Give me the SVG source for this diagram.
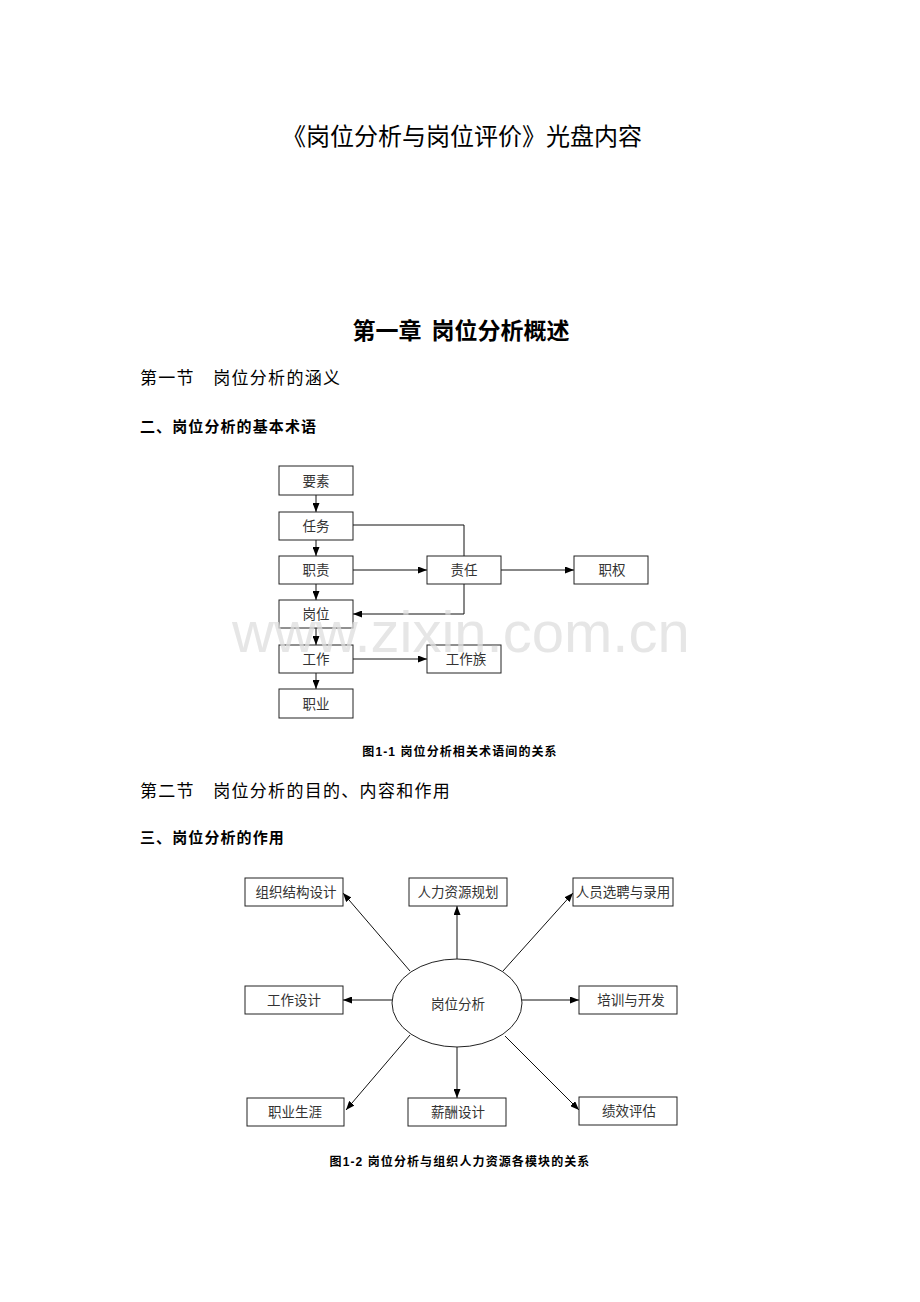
<svg xmlns="http://www.w3.org/2000/svg" width="920" height="1302" viewBox="0 0 920 1302">
<defs>
<marker id="ah" markerUnits="userSpaceOnUse" markerWidth="9" markerHeight="7" refX="9" refY="3.5" orient="auto">
<path d="M0,0 L9,3.5 L0,7 z" fill="#000"/>
</marker>
<style>
.t{font-family:"Liberation Sans","Noto Sans CJK SC",sans-serif;fill:#000}
.h1{font-size:24px}
.h2{font-size:23px;font-weight:bold}
.sec{font-size:17px;letter-spacing:1.3px}
.sub{font-size:15px;font-weight:bold;letter-spacing:1.1px}
.cap{font-size:12px;font-weight:bold;letter-spacing:1.1px}
.bx{fill:#fff;stroke:#222;stroke-width:1}
.lb{font-family:"Liberation Sans","Noto Sans CJK SC",sans-serif;font-size:13.5px;fill:#333;text-anchor:middle}
.ln{fill:none;stroke:#111;stroke-width:1}
.wm{font-family:"Liberation Sans","Noto Sans",sans-serif;font-size:58px;fill:#dedede;fill-opacity:0.75}
</style>
</defs>
<rect x="0" y="0" width="920" height="1302" fill="#fff"/>

<text class="t h1" x="462" y="145" text-anchor="middle">《岗位分析与岗位评价》光盘内容</text>
<text class="t h2" x="461" y="339" text-anchor="middle">第一章<tspan dx="10">岗位分析概述</tspan></text>
<text class="t sec" x="140" y="384">第一节　岗位分析的涵义</text>
<text class="t sub" x="140" y="432">二、岗位分析的基本术语</text>

<g id="connectors1">
<line class="ln" x1="316" y1="495" x2="316" y2="512" marker-end="url(#ah)"/>
<line class="ln" x1="316" y1="540" x2="316" y2="556" marker-end="url(#ah)"/>
<line class="ln" x1="316" y1="584" x2="316" y2="600" marker-end="url(#ah)"/>
<line class="ln" x1="316" y1="628" x2="316" y2="645" marker-end="url(#ah)"/>
<line class="ln" x1="316" y1="673" x2="316" y2="689" marker-end="url(#ah)"/>
<polyline class="ln" points="353,525 464,525 464,556"/>
<line class="ln" x1="353" y1="570" x2="427" y2="570" marker-end="url(#ah)"/>
<line class="ln" x1="501" y1="570" x2="574" y2="570" marker-end="url(#ah)"/>
<polyline class="ln" points="464,584 464,614 353,614" marker-end="url(#ah)"/>
<line class="ln" x1="353" y1="659" x2="427" y2="659" marker-end="url(#ah)"/>
</g>

<g id="n-yaosu"><rect class="bx" x="279" y="466" width="74" height="29"/><text class="lb" x="316" y="486">要素</text></g>
<g id="n-renwu"><rect class="bx" x="279" y="512" width="74" height="28"/><text class="lb" x="316" y="531">任务</text></g>
<g id="n-zhize"><rect class="bx" x="279" y="556" width="74" height="28"/><text class="lb" x="316" y="575">职责</text></g>
<g id="n-gangwei"><rect class="bx" x="279" y="600" width="74" height="28"/><text class="lb" x="316" y="619">岗位</text></g>
<g id="n-gongzuo"><rect class="bx" x="279" y="645" width="74" height="28"/><text class="lb" x="316" y="664">工作</text></g>
<g id="n-zhiye"><rect class="bx" x="279" y="689" width="74" height="29"/><text class="lb" x="316" y="709">职业</text></g>
<g id="n-zeren"><rect class="bx" x="427" y="556" width="74" height="28"/><text class="lb" x="464" y="575">责任</text></g>
<g id="n-zhiquan"><rect class="bx" x="574" y="556" width="74" height="28"/><text class="lb" x="612" y="575">职权</text></g>
<g id="n-gongzuozu"><rect class="bx" x="427" y="645" width="74" height="28"/><text class="lb" x="466" y="664">工作族</text></g>

<text class="t cap" x="460" y="756" text-anchor="middle">图1-1 岗位分析相关术语间的关系</text>
<text class="t sec" x="140" y="797">第二节　岗位分析的目的、内容和作用</text>
<text class="t sub" x="140" y="843">三、岗位分析的作用</text>

<g id="connectors2">
<line class="ln" x1="410" y1="971" x2="343" y2="893" marker-end="url(#ah)"/>
<line class="ln" x1="457" y1="959" x2="457" y2="906" marker-end="url(#ah)"/>
<line class="ln" x1="503" y1="971" x2="573" y2="893" marker-end="url(#ah)"/>
<line class="ln" x1="392" y1="1000" x2="343" y2="1000" marker-end="url(#ah)"/>
<line class="ln" x1="522" y1="1000" x2="579" y2="1000" marker-end="url(#ah)"/>
<line class="ln" x1="410" y1="1035" x2="346" y2="1110" marker-end="url(#ah)"/>
<line class="ln" x1="457" y1="1047" x2="457" y2="1098" marker-end="url(#ah)"/>
<line class="ln" x1="505" y1="1036" x2="579" y2="1110" marker-end="url(#ah)"/>
</g>

<g id="n-center"><ellipse class="bx" cx="457" cy="1003" rx="65" ry="44"/><text class="lb" x="458" y="1009">岗位分析</text></g>
<g id="n-zuzhi"><rect class="bx" x="245" y="878" width="98" height="28"/><text class="lb" x="296" y="897">组织结构设计</text></g>
<g id="n-guihua"><rect class="bx" x="409" y="878" width="98" height="28"/><text class="lb" x="458" y="897">人力资源规划</text></g>
<g id="n-xuanpin"><rect class="bx" x="573" y="878" width="100" height="28"/><text class="lb" x="623" y="897">人员选聘与录用</text></g>
<g id="n-gzsj"><rect class="bx" x="245" y="986" width="98" height="28"/><text class="lb" x="294" y="1005">工作设计</text></g>
<g id="n-peixun"><rect class="bx" x="579" y="986" width="98" height="28"/><text class="lb" x="631" y="1005">培训与开发</text></g>
<g id="n-shengya"><rect class="bx" x="247" y="1098" width="97" height="28"/><text class="lb" x="295" y="1117">职业生涯</text></g>
<g id="n-xinchou"><rect class="bx" x="408" y="1098" width="98" height="28"/><text class="lb" x="458" y="1117">薪酬设计</text></g>
<g id="n-jixiao"><rect class="bx" x="579" y="1097" width="98" height="28"/><text class="lb" x="629" y="1116">绩效评估</text></g>

<text class="t cap" x="460" y="1166" text-anchor="middle">图1-2 岗位分析与组织人力资源各模块的关系</text>

<text class="wm" x="232" y="652">www.zixin.com.cn</text>
</svg>
